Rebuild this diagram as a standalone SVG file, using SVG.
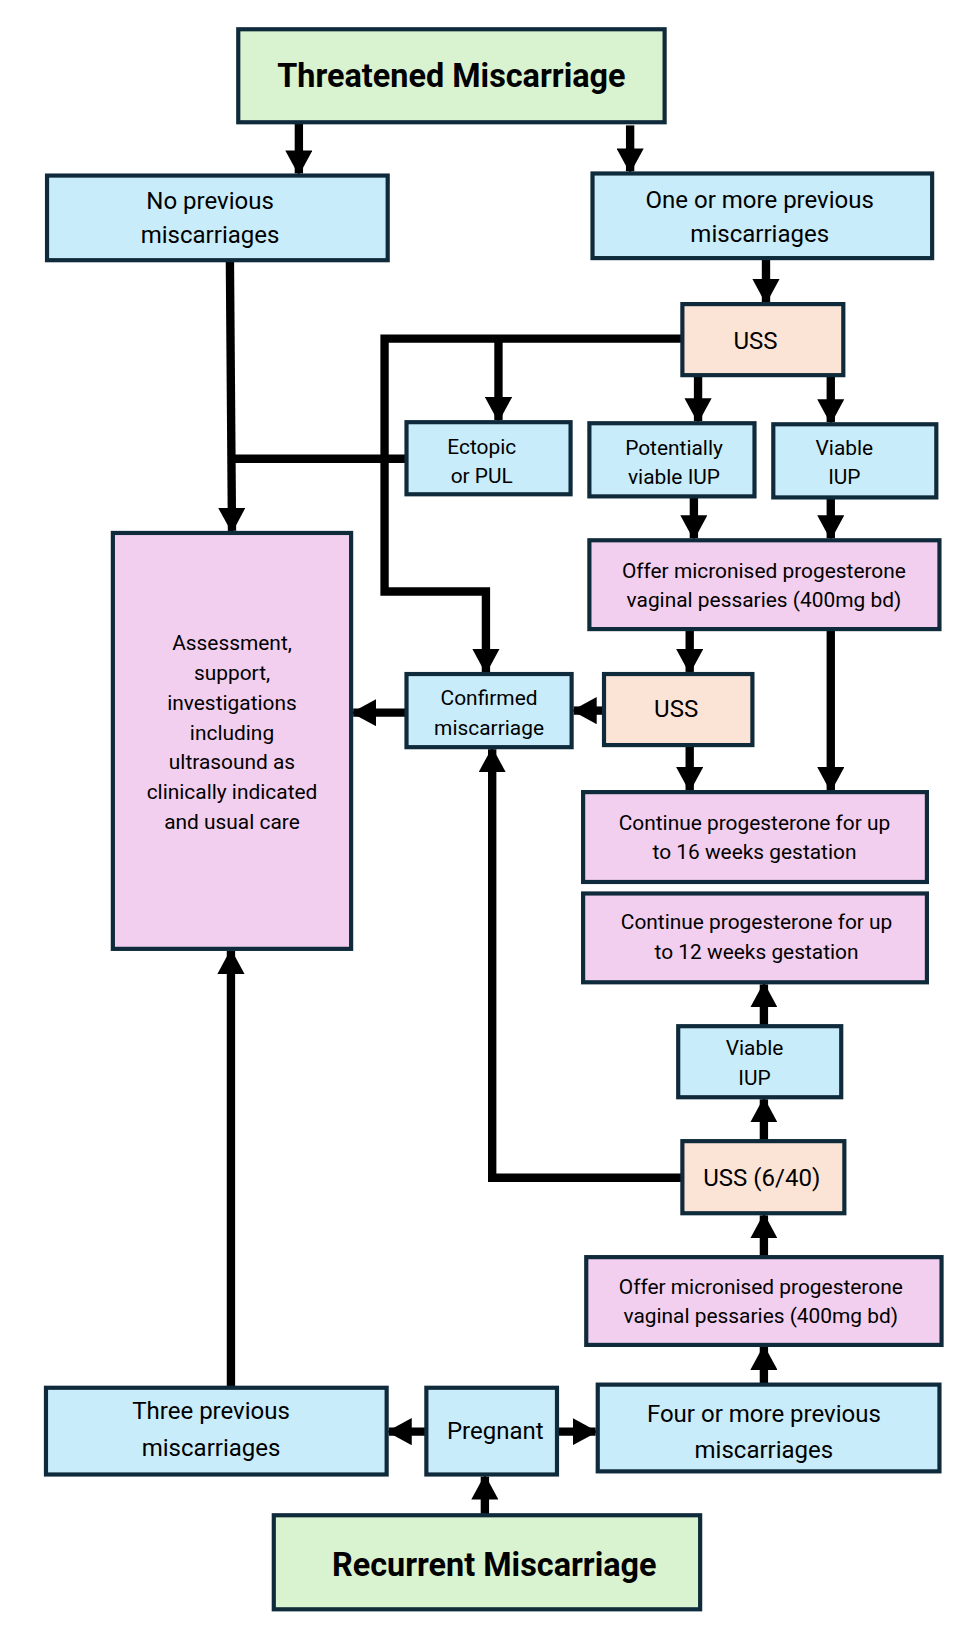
<svg xmlns="http://www.w3.org/2000/svg" width="972" height="1634" viewBox="0 0 972 1634">
<style>
rect{stroke:#0f2a3a;stroke-width:4}
.g{fill:#d9f2d0}.b{fill:#c9ecfa}.p{fill:#fbe3d6}.k{fill:#f2cfee}
text{font-family:Roboto,"Liberation Sans",sans-serif;fill:#000;text-anchor:middle;font-size:23px}
.t{font-size:31px;font-weight:bold}
.s{font-size:20px}
#conn path{fill:none;stroke:#000;stroke-width:8}
</style>
<defs>
<marker id="a" markerUnits="userSpaceOnUse" markerWidth="24" markerHeight="26" refX="22" refY="13" orient="auto"><path d="M0,0L24,13L0,26z" fill="#000"/></marker>
</defs>
<rect width="972" height="1634" fill="#fff" style="stroke:none"/>
<g transform="scale(1.045)">
<g id="conn">
<path d="M286,117V166" marker-end="url(#a)"/>
<path d="M603,120V164" marker-end="url(#a)"/>
<path d="M733,247V289" marker-end="url(#a)"/>
<path d="M653,324H368V566H465V643" marker-end="url(#a)"/>
<path d="M477,324V402" marker-end="url(#a)"/>
<path d="M668,359V403" marker-end="url(#a)"/>
<path d="M795,359V404" marker-end="url(#a)"/>
<path d="M220,249L222,508" marker-end="url(#a)"/>
<path d="M389,439H221"/>
<path d="M664,475V515" marker-end="url(#a)"/>
<path d="M795,476V515" marker-end="url(#a)"/>
<path d="M660,602V643" marker-end="url(#a)"/>
<path d="M795,602V756" marker-end="url(#a)"/>
<path d="M660,713V756" marker-end="url(#a)"/>
<path d="M578,680H549" marker-end="url(#a)"/>
<path d="M389,682H338" marker-end="url(#a)"/>
<path d="M653,1127H471V717" marker-end="url(#a)"/>
<path d="M731,1092V1052" marker-end="url(#a)"/>
<path d="M731,982V942" marker-end="url(#a)"/>
<path d="M731,1203V1163" marker-end="url(#a)"/>
<path d="M731,1325V1289" marker-end="url(#a)"/>
<path d="M221,1328V910" marker-end="url(#a)"/>
<path d="M408,1370H372" marker-end="url(#a)"/>
<path d="M533,1370H570" marker-end="url(#a)"/>
<path d="M464,1450V1413" marker-end="url(#a)"/>
</g>
<g id="threatened"><rect class="g" x="228" y="28" width="408" height="89"/><text class="t" x="432" y="83">Threatened Miscarriage</text></g>
<g id="noprev"><rect class="b" x="45" y="168" width="326" height="81"/><text x="201" y="200">No previous</text><text x="201" y="233">miscarriages</text></g>
<g id="oneprev"><rect class="b" x="567" y="166" width="325" height="81"/><text x="727" y="199">One or more previous</text><text x="727" y="232">miscarriages</text></g>
<g id="uss1"><rect class="p" x="653" y="291" width="154" height="68"/><text x="723" y="334">USS</text></g>
<g id="ectopic"><rect class="b" x="389" y="404" width="157" height="69"/><text class="s" x="461" y="434">Ectopic</text><text class="s" x="461" y="462">or PUL</text></g>
<g id="potviable"><rect class="b" x="564" y="405" width="158" height="70"/><text class="s" x="645" y="435">Potentially</text><text class="s" x="645" y="463">viable IUP</text></g>
<g id="viable1"><rect class="b" x="740" y="406" width="156" height="70"/><text class="s" x="808" y="435">Viable</text><text class="s" x="808" y="463">IUP</text></g>
<g id="offer1"><rect class="k" x="564" y="517" width="335" height="85"/><text class="s" x="731" y="553">Offer micronised progesterone</text><text class="s" x="731" y="581">vaginal pessaries (400mg bd)</text></g>
<g id="assess"><rect class="k" x="108" y="510" width="228" height="398"/>
<text class="s" x="222" y="622">Assessment,</text><text class="s" x="222" y="651">support,</text><text class="s" x="222" y="679">investigations</text><text class="s" x="222" y="708">including</text><text class="s" x="222" y="736">ultrasound as</text><text class="s" x="222" y="765">clinically indicated</text><text class="s" x="222" y="793">and usual care</text></g>
<g id="confirmed"><rect class="b" x="389" y="645" width="158" height="70"/><text class="s" x="468" y="675">Confirmed</text><text class="s" x="468" y="703">miscarriage</text></g>
<g id="uss2"><rect class="p" x="578" y="645" width="142" height="68"/><text x="647" y="686">USS</text></g>
<g id="cont16"><rect class="k" x="558" y="758" width="329" height="86"/><text class="s" x="722" y="794">Continue progesterone for up</text><text class="s" x="722" y="822">to 16 weeks gestation</text></g>
<g id="cont12"><rect class="k" x="558" y="855" width="329" height="85"/><text class="s" x="724" y="889">Continue progesterone for up</text><text class="s" x="724" y="918">to 12 weeks gestation</text></g>
<g id="viable2"><rect class="b" x="649" y="982" width="156" height="68"/><text class="s" x="722" y="1010">Viable</text><text class="s" x="722" y="1038">IUP</text></g>
<g id="uss640"><rect class="p" x="653" y="1092" width="155" height="69"/><text x="729" y="1135">USS (6/40)</text></g>
<g id="offer2"><rect class="k" x="561" y="1203" width="340" height="84"/><text class="s" x="728" y="1238">Offer micronised progesterone</text><text class="s" x="728" y="1266">vaginal pessaries (400mg bd)</text></g>
<g id="three"><rect class="b" x="44" y="1328" width="326" height="83"/><text x="202" y="1358">Three previous</text><text x="202" y="1393">miscarriages</text></g>
<g id="pregnant"><rect class="b" x="408" y="1328" width="125" height="83"/><text x="474" y="1377">Pregnant</text></g>
<g id="four"><rect class="b" x="572" y="1325" width="327" height="83"/><text x="731" y="1361">Four or more previous</text><text x="731" y="1395">miscarriages</text></g>
<g id="recurrent"><rect class="g" x="262" y="1450" width="408" height="90"/><text class="t" x="473" y="1508">Recurrent Miscarriage</text></g>
</g>
</svg>
